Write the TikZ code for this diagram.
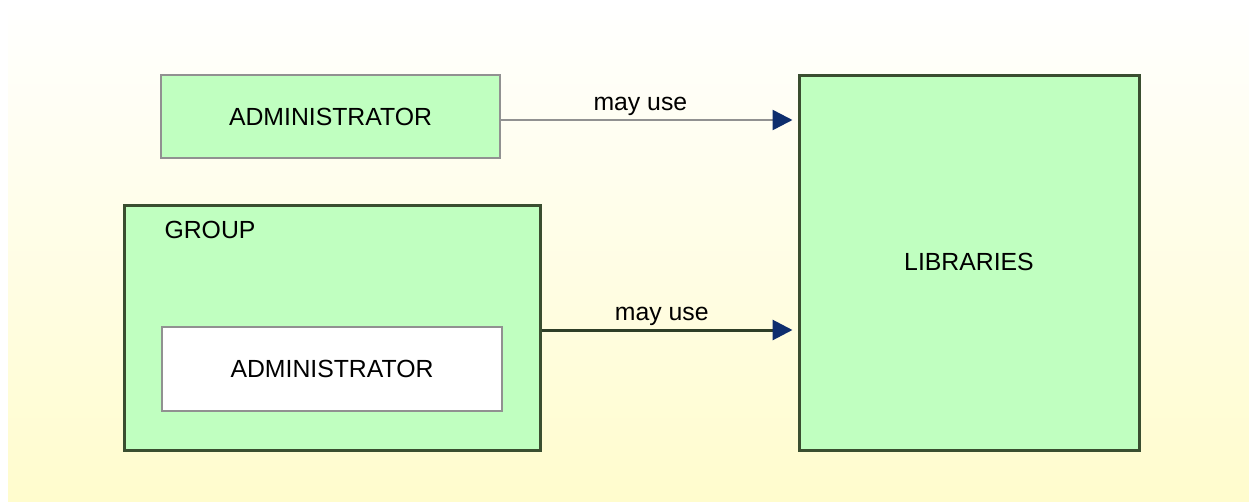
\documentclass[tikz,border=0pt]{standalone}
\usepackage{fontspec}
\setmainfont{Liberation Sans}
\usetikzlibrary{arrows.meta}
\definecolor{boxgreen}{RGB}{192,255,192}
\definecolor{darkrim}{RGB}{58,78,48}
\definecolor{greyrim}{RGB}{145,145,145}
\definecolor{tipblue}{RGB}{14,46,110}
\definecolor{paleyellow}{RGB}{255,252,205}
\begin{document}
\begin{tikzpicture}[x=1pt,y=-1pt,>={Triangle[length=20pt,width=20pt,color=tipblue]},
  font=\fontsize{24.8}{30}\selectfont,
  greybox/.style={draw=greyrim,line width=2pt,fill=boxgreen,inner sep=0pt},
  darkbox/.style={draw=darkrim,line width=3pt,fill=boxgreen,inner sep=0pt},
  whitebox/.style={draw=greyrim,line width=2pt,fill=white,inner sep=0pt}]
\useasboundingbox (0,0) rectangle (1249,501);
\fill[white] (0,0) rectangle (1249,501);
\shade[top color=white,bottom color=paleyellow] (8,0) rectangle (1249,501);
% boxes
\node[greybox,minimum width=339pt,minimum height=83pt] (admin) at (330.5,116.5) {ADMINISTRATOR};
\node[darkbox,minimum width=416pt,minimum height=245pt] (group) at (332,327.5) {};
\node[anchor=west] (grouplabel) at (161,230) {GROUP};
\node[whitebox,minimum width=340pt,minimum height=84pt] (groupadmin) at (332,369) {ADMINISTRATOR};
\node[darkbox,minimum width=340pt,minimum height=375pt] (libs) at (969,262.5) {};
\node (libslabel) at (969,262) {LIBRARIES};
% connectors
\draw[->,greyrim,line width=2.5pt,shorten >=5pt] ([yshift=-3.5pt]admin.east) -- ([yshift=-3.5pt]admin.east -| libs.west) node[above,pos=0.47,black]{may use};
\draw[->,darkrim!80!black,line width=3pt,shorten >=5pt] ([yshift=-2.5pt]group.east) -- ([yshift=-2.5pt]group.east -| libs.west) node[above,pos=0.47,black]{may use};
\end{tikzpicture}
\end{document}
